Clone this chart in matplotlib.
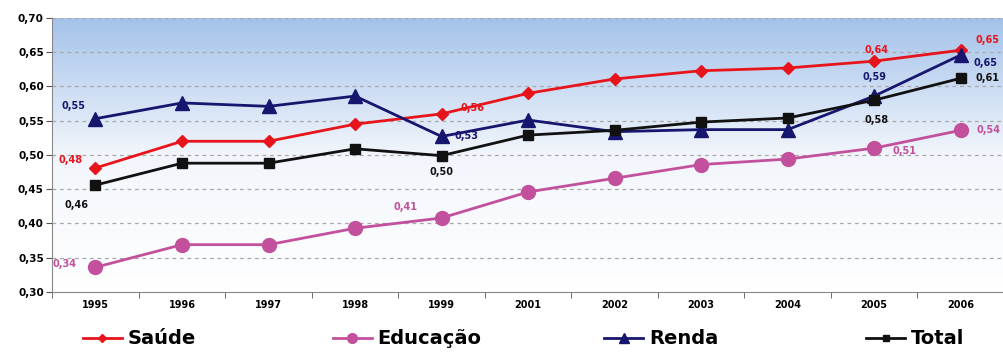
import numpy as np
import matplotlib
matplotlib.use("Agg")
import matplotlib.pyplot as plt
from matplotlib.colors import LinearSegmentedColormap

anos = ["1995", "1996", "1997", "1998", "1999", "2001", "2002", "2003", "2004", "2005", "2006"]
saude = [0.481, 0.520, 0.520, 0.545, 0.560, 0.590, 0.611, 0.623, 0.627, 0.637, 0.653]
educacao = [0.336, 0.369, 0.369, 0.393, 0.408, 0.446, 0.466, 0.486, 0.494, 0.510, 0.536]
renda = [0.553, 0.576, 0.571, 0.586, 0.527, 0.551, 0.534, 0.537, 0.537, 0.586, 0.646]
total = [0.456, 0.488, 0.488, 0.509, 0.499, 0.529, 0.536, 0.548, 0.554, 0.580, 0.612]

fig = plt.figure(figsize=(10.04, 3.53), dpi=100)
ax = fig.add_axes([0.052, 0.173, 0.948, 0.776])

x = np.arange(len(anos))
ax.set_xlim(-0.5, len(anos) - 0.5)
ax.set_ylim(0.30, 0.70)

# fundo em degradê azul -> branco
cmap = LinearSegmentedColormap.from_list("fundo", ["#ffffff", "#f2f6fc", "#a4c2ea"])
grad = np.linspace(0, 1, 256).reshape(-1, 1)
ax.imshow(grad, aspect="auto", cmap=cmap, origin="lower",
          extent=[-0.5, len(anos) - 0.5, 0.30, 0.70], zorder=0)

for yv in np.arange(0.35, 0.701, 0.05):
    ax.axhline(yv, color="#a8a8a8", lw=0.9, ls=(0, (3, 3)), zorder=1)

series = [
    ("Saúde", saude, "#e8141c", "D", 6),
    ("Educação", educacao, "#c2509c", "o", 10),
    ("Renda", renda, "#16166e", "^", 10),
    ("Total", total, "#111111", "s", 6.5),
]
linhas = []
for nome, vals, cor, mk, ms in series:
    ln, = ax.plot(x, vals, color=cor, marker=mk, ms=ms, lw=2, label=nome, zorder=3)
    linhas.append(ln)

# rótulos de valores: (série, cor, índice, deslocamento em pontos)
rotulos = [
    (saude, "#e8141c", 0, (-18, 6)), (saude, "#e8141c", 4, (22, 4)),
    (saude, "#e8141c", 9, (2, 8)), (saude, "#e8141c", 10, (19, 7)),
    (educacao, "#c2509c", 0, (-22, 2)), (educacao, "#c2509c", 4, (-26, 8)),
    (educacao, "#c2509c", 9, (22, -2)), (educacao, "#c2509c", 10, (20, 0)),
    (renda, "#16166e", 0, (-16, 9)), (renda, "#16166e", 4, (18, 0)),
    (renda, "#16166e", 9, (0, 14)), (renda, "#16166e", 10, (18, -6)),
    (total, "#111111", 0, (-14, -14)), (total, "#111111", 4, (0, -12)),
    (total, "#111111", 9, (2, -14)), (total, "#111111", 10, (19, 0)),
]
for vals, cor, i, off in rotulos:
    ax.annotate(f"{vals[i]:.2f}".replace(".", ","), (x[i], vals[i]),
                xytext=off, textcoords="offset points", ha="center", va="center",
                fontsize=7, fontweight="bold", color=cor, zorder=4)

ax.set_yticks(np.arange(0.30, 0.701, 0.05))
ax.set_yticklabels([f"{v:.2f}".replace(".", ",") for v in np.arange(0.30, 0.701, 0.05)],
                   fontsize=7.5, fontweight="bold")
ax.set_xticks(x)
ax.set_xticklabels(anos, fontsize=7, fontweight="bold")
ax.set_xticks(np.arange(-0.5, len(anos), 1), minor=True)
ax.tick_params(axis="x", which="major", length=0, pad=6)
ax.tick_params(axis="x", which="minor", length=4, color="#555555")
ax.tick_params(axis="y", length=4, color="#555555", pad=2)

for s in ["top", "right"]:
    ax.spines[s].set_visible(False)
ax.spines["left"].set_color("#888888")
ax.spines["bottom"].set_color("#888888")

# uma legenda por série, espaçadas ao longo da base
pos_leg = [0.073, 0.322, 0.592, 0.853]
for ln, px in zip(linhas, pos_leg):
    fig.legend(handles=[ln], loc="center left", bbox_to_anchor=(px, 0.04),
               frameon=False, handlelength=2.0, handletextpad=0.3, borderpad=0,
               markerscale=0.7, prop={"weight": "bold", "size": 14})

fig.savefig("out.png", dpi=100)
